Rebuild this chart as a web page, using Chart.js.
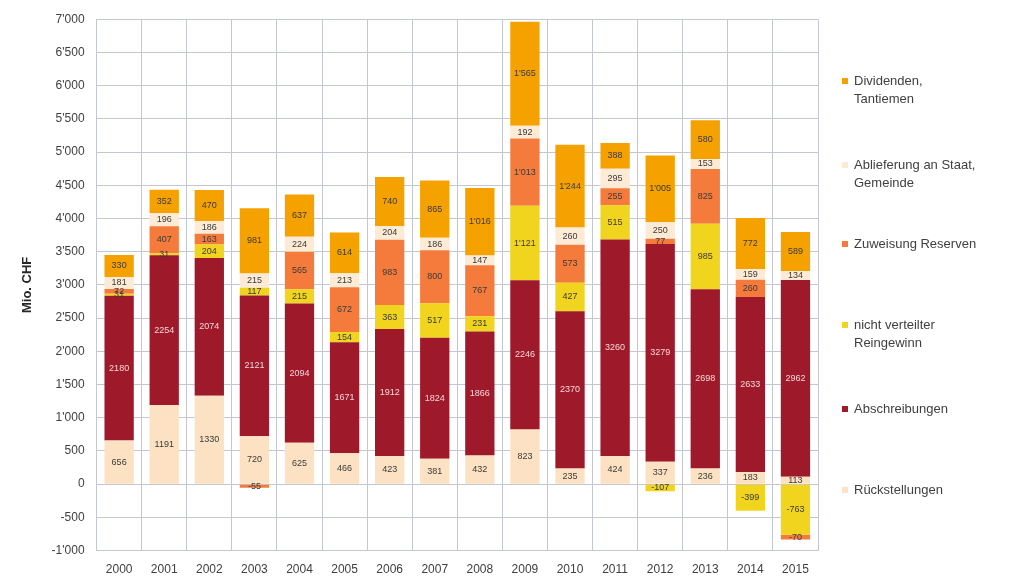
<!DOCTYPE html>
<html>
<head>
<meta charset="utf-8">
<script src="https://cdn.jsdelivr.net/npm/chart.js@4/dist/chart.umd.min.js"></script>
<style>
  body { margin: 0; background: #fff; font-family: "Liberation Sans", Arial, sans-serif; }
  #wrap { position: relative; width: 1032px; height: 579px; }
  #legend { position: absolute; left: 842px; top: 0; }
  .item { position: absolute; left: 0; width: 190px; font-size: 13px; line-height: 18px; color: #404040; white-space: nowrap; }
  .item span.box { position: absolute; left: 0; top: 6px; width: 6px; height: 6px; }
  .item div { margin-left: 12px; }
</style>
</head>
<body>
<div id="wrap">
  <canvas id="chart" width="1032" height="579"></canvas>
  <div id="legend"></div>
</div>
<script>
// Kategorien und Werte (Mio. CHF), Reihenfolge von unten nach oben
const years = ['2000', '2001', '2002', '2003', '2004', '2005', '2006', '2007',
               '2008', '2009', '2010', '2011', '2012', '2013', '2014', '2015'];
const rueckstellungen = [656, 1191, 1330, 720, 625, 466, 423, 381, 432, 823, 235, 424, 337, 236, 183, 113];
const abschreibungen = [2180, 2254, 2074, 2121, 2094, 1671, 1912, 1824, 1866, 2246, 2370, 3260, 3279, 2698, 2633, 2962];
const reingewinn = [31, 31, 204, 117, 215, 154, 363, 517, 231, 1121, 427, 515, -107, 985, -399, -763];
const reserven = [72, 407, 163, -55, 565, 672, 983, 800, 767, 1013, 573, 255, 77, 825, 260, -70];
const ablieferung = [181, 196, 186, 215, 224, 213, 204, 186, 147, 192, 260, 295, 250, 153, 159, 134];
const dividenden = [330, 352, 470, 981, 637, 614, 740, 865, 1016, 1565, 1244, 388, 1005, 580, 772, 589];

const yTicks = { min: -1000, max: 7000, step: 500 };

function swiss(n) {
    const s = Math.abs(n).toString().replace(/\B(?=(\d{3})+(?!\d))/g, "'");
    return (n < 0 ? '-' : '') + s;
}

const series = [
    { label: 'Rückstellungen', legend: ['Rückstellungen'], data: rueckstellungen, color: '#fce2c3', text: '#3a3a3a', sep: false },
    { label: 'Abschreibungen', legend: ['Abschreibungen'], data: abschreibungen, color: '#9e1a2b', text: '#f6d6d6', sep: false },
    { label: 'nicht verteilter Reingewinn', legend: ['nicht verteilter', 'Reingewinn'], data: reingewinn, color: '#f1d41d', text: '#3a3a3a', sep: true },
    { label: 'Zuweisung Reserven', legend: ['Zuweisung Reserven'], data: reserven, color: '#f47b3c', text: '#3a3a3a', sep: true },
    { label: 'Ablieferung an Staat, Gemeinde', legend: ['Ablieferung an Staat,', 'Gemeinde'], data: ablieferung, color: '#fdebd5', text: '#3a3a3a', sep: false },
    { label: 'Dividenden, Tantiemen', legend: ['Dividenden,', 'Tantiemen'], data: dividenden, color: '#f5a100', text: '#3a3a3a', sep: true }
];

// Werte in die Segmente schreiben
const segmentLabels = {
    id: 'segmentLabels',
    afterDatasetsDraw(chart) {
        const ctx = chart.ctx;
        ctx.save();
        ctx.font = '9px "Liberation Sans", Arial, sans-serif';
        ctx.textAlign = 'center';
        ctx.textBaseline = 'middle';
        chart.data.datasets.forEach((ds, i) => {
            const meta = chart.getDatasetMeta(i);
            meta.data.forEach((bar, j) => {
                const v = ds.data[j];
                if (v === null || v === 0) return;
                ctx.fillStyle = series[i].text;
                const txt = series[i].sep ? swiss(v) : String(v);
                ctx.fillText(txt, bar.x, (bar.y + bar.base) / 2);
            });
        });
        ctx.restore();
    }
};

const chart = new Chart(document.getElementById('chart'), {
    type: 'bar',
    data: {
        labels: years,
        datasets: series.map(s => ({
            label: s.label,
            data: s.data,
            backgroundColor: s.color,
            borderWidth: 0,
            categoryPercentage: 0.65,
            barPercentage: 1
        }))
    },
    options: {
        responsive: false,
        animation: false,
        layout: { padding: { left: 16, right: 214, top: 10, bottom: -10 } },
        plugins: {
            legend: { display: false },
            tooltip: { enabled: false }
        },
        scales: {
            x: {
                stacked: true,
                grid: { color: '#c3c7d0', offset: true, drawTicks: false },
                border: { color: '#c3c7d0' },
                ticks: { color: '#404040', font: { size: 12, family: '"Liberation Sans", Arial' }, padding: 12 }
            },
            y: {
                stacked: true,
                min: yTicks.min,
                max: yTicks.max,
                grid: { color: '#c3c7d0', drawTicks: false },
                border: { color: '#c3c7d0' },
                ticks: {
                    stepSize: yTicks.step,
                    color: '#404040',
                    padding: 12,
                    font: { size: 12, family: '"Liberation Sans", Arial' },
                    callback: v => swiss(v)
                },
                title: {
                    display: true,
                    text: 'Mio. CHF',
                    color: '#262626',
                    font: { size: 13, weight: 'bold', family: '"Liberation Sans", Arial' }
                }
            }
        }
    },
    plugins: [segmentLabels]
});

// Legende rechts, oberste Reihe zuerst
const legendTops = [72, 156, 235, 316, 400, 481];
const legendEl = document.getElementById('legend');
series.slice().reverse().forEach((s, k) => {
    const item = document.createElement('div');
    item.className = 'item';
    item.style.top = legendTops[k] + 'px';
    const box = document.createElement('span');
    box.className = 'box';
    box.style.background = s.color;
    item.appendChild(box);
    const txt = document.createElement('div');
    txt.innerHTML = s.legend.join('<br>');
    item.appendChild(txt);
    legendEl.appendChild(item);
});
</script>
</body>
</html>
